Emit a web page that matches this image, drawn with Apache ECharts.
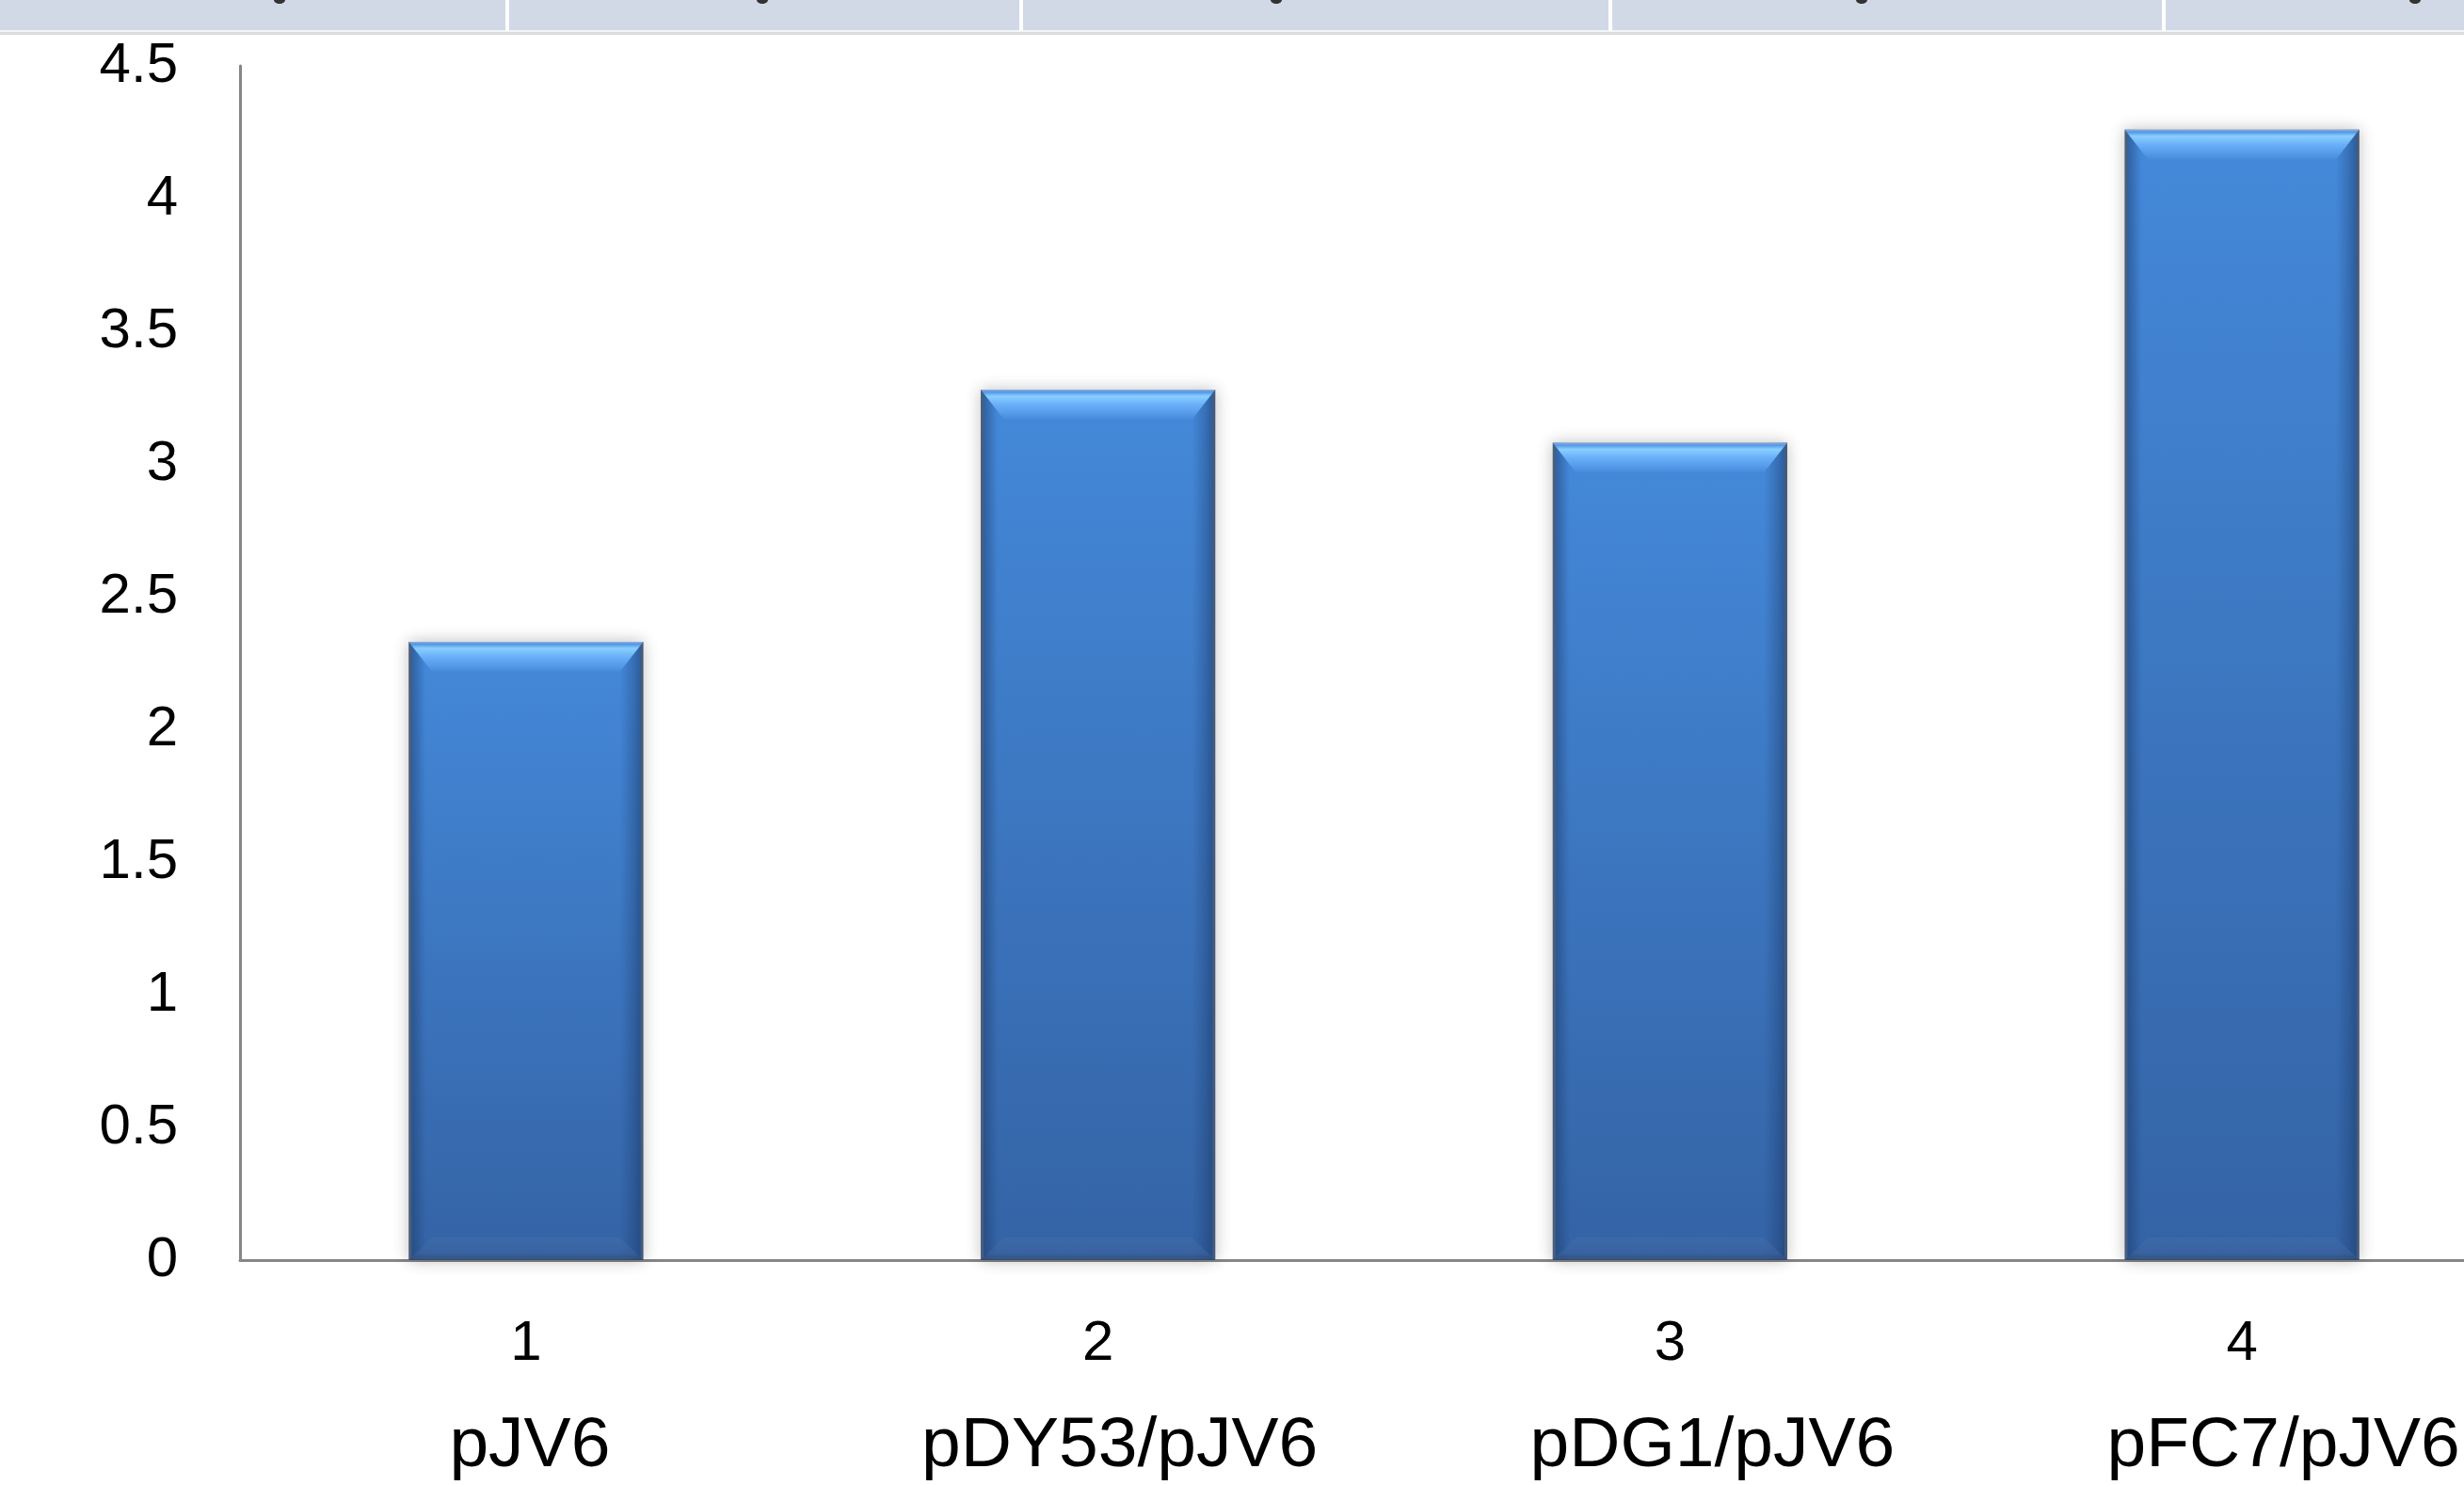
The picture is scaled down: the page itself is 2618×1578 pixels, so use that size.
<!DOCTYPE html>
<html>
<head>
<meta charset="utf-8">
<script src="https://cdn.jsdelivr.net/npm/echarts@6/dist/echarts.min.js"></script>
<style>
html,body{margin:0;padding:0;background:#fff;}
#chart{width:2618px;height:1578px;}
</style>
</head>
<body>
<div id="chart"></div>
<script>
// ---- data ----
const categoryNumbers = ['1', '2', '3', '4'];
const categoryNames = ['pJV6', 'pDY53/pJV6', 'pDG1/pJV6', 'pFC7/pJV6'];
const values = [2.33, 3.28, 3.08, 4.26];
const yTicks = { min: 0, max: 4.5, interval: 0.5 };

// ---- layout / style constants ----
const nameShift = [4, 23, 45, 44]; // horizontal shift of the name text (px)
const FONT = '"Liberation Sans", Arial, sans-serif';

const rich = {
  n: { fontSize: 60, lineHeight: 80, color: '#000', fontFamily: FONT, align: 'center' }
};
nameShift.forEach((s, i) => {
  rich['c' + i] = { fontSize: 75, lineHeight: 138, color: '#000', fontFamily: FONT,
    align: 'center', padding: [0, 0, 0, 2 * s] };
});

const chart = echarts.init(document.getElementById('chart'), null, { renderer: 'canvas' });

const sepX = [539, 1085, 1711, 2299];
const dotX = [297, 810, 1356, 1978, 2566];
const graphics = [
  { type: 'rect', shape: { x: 0, y: 0, width: 2618, height: 32 }, style: { fill: '#d1d9e7' }, z: 10 },
  { type: 'rect', shape: { x: 0, y: 32, width: 2618, height: 2 }, style: { fill: '#f2f4f8' }, z: 10 },
  { type: 'rect', shape: { x: 0, y: 34, width: 2618, height: 3 }, style: { fill: '#dcdcdc' }, z: 10 }
];
sepX.forEach(x => graphics.push({ type: 'rect', shape: { x: x - 2, y: 0, width: 4, height: 33 }, style: { fill: '#ffffff' }, z: 11 }));
dotX.forEach(x => graphics.push({ type: 'ellipse', shape: { cx: x, cy: 0, rx: 6, ry: 4 }, style: { fill: '#333' }, z: 11 }));

const option = {
  animation: false,
  backgroundColor: '#ffffff',
  graphic: graphics,
  grid: { left: 255, top: 70, width: 2431, height: 1269, containLabel: false, outerBoundsMode: 'none' },
  xAxis: {
    type: 'category',
    data: categoryNumbers,
    axisLine: { show: true, lineStyle: { color: '#868686', width: 3 } },
    axisTick: { show: false },
    splitLine: { show: false },
    axisLabel: {
      interval: 0,
      margin: 49,
      rich: rich,
      formatter: (v, i) => '{n|' + v + '}\n{c' + i + '|' + categoryNames[i] + '}'
    }
  },
  yAxis: {
    type: 'value',
    min: yTicks.min, max: yTicks.max, interval: yTicks.interval,
    axisLine: { show: true, lineStyle: { color: '#868686', width: 3 } },
    axisTick: { show: false },
    splitLine: { show: false },
    axisLabel: { fontSize: 60, color: '#000', fontFamily: FONT, margin: 66 }
  },
  series: [
    {
      type: 'bar', data: values, barWidth: '41%', barGap: '-100%',
      itemStyle: {
        color: new echarts.graphic.LinearGradient(0, 0, 0, 1, [
          { offset: 0, color: '#4489da' },
          { offset: 1, color: '#3463a5' }
        ]),
        borderColor: 'rgba(118,128,142,0.95)', borderWidth: 3,
        shadowBlur: 16, shadowColor: 'rgba(0,0,0,0.22)'
      },
      z: 2
    },
    {
      type: 'bar', data: values, barWidth: '41%', barGap: '-100%',
      itemStyle: {
        color: new echarts.graphic.LinearGradient(0, 0, 1, 0, [
          { offset: 0, color: 'rgba(28,58,105,0.55)' },
          { offset: 0.07, color: 'rgba(28,58,105,0.0)' },
          { offset: 0.90, color: 'rgba(28,58,105,0.0)' },
          { offset: 0.96, color: 'rgba(28,58,105,0.3)' },
          { offset: 1, color: 'rgba(28,58,105,0.6)' }
        ])
      },
      z: 3
    },
    {
      type: 'pictorialBar', data: values, barWidth: '41%', barGap: '-100%',
      symbol: 'path://M0,0 L100,0 L90,100 L10,100 Z',
      symbolSize: ['100%', 32],
      symbolPosition: 'end',
      symbolOffset: [0, 0],
      itemStyle: {
        color: new echarts.graphic.LinearGradient(0, 0, 0, 1, [
          { offset: 0, color: '#92b2da' },
          { offset: 0.08, color: '#5396e8' },
          { offset: 0.22, color: '#89cfff' },
          { offset: 0.5, color: '#69aff8' },
          { offset: 0.8, color: '#549ae9' },
          { offset: 1, color: '#4689d8' }
        ])
      },
      z: 4
    },
    {
      type: 'pictorialBar', data: values, barWidth: '41%', barGap: '-100%',
      symbol: 'path://M10,0 L90,0 L100,100 L0,100 Z',
      symbolSize: ['100%', 24],
      symbolPosition: 'start',
      symbolOffset: [0, 0],
      itemStyle: {
        color: new echarts.graphic.LinearGradient(0, 0, 0, 1, [
          { offset: 0, color: 'rgba(70,110,170,0.5)' },
          { offset: 0.7, color: 'rgba(60,100,160,0.6)' },
          { offset: 1, color: 'rgba(40,70,115,0.9)' }
        ])
      },
      z: 4
    }
  ]
};
chart.setOption(option);
</script>
</body>
</html>
